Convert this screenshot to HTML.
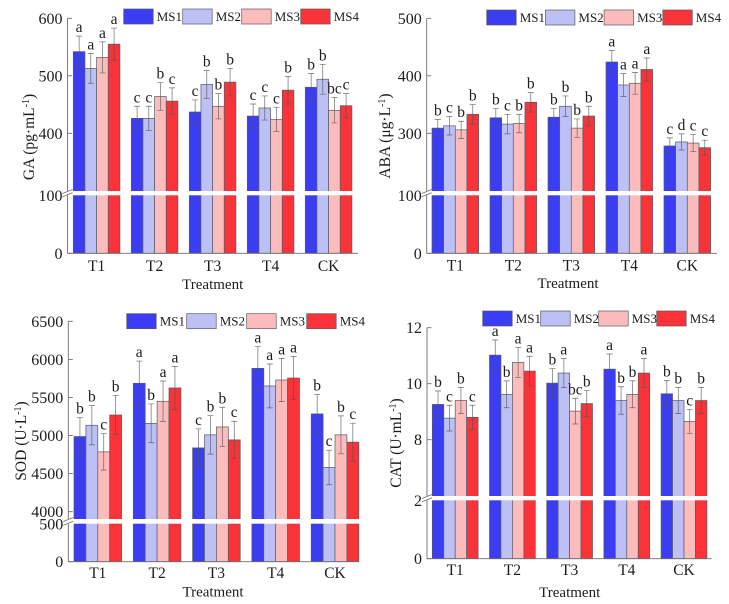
<!DOCTYPE html>
<html lang="en">
<head>
<meta charset="utf-8">
<title>Treatment bar charts</title>
<style>
html,body{margin:0;padding:0;background:#fff;width:729px;height:604px;overflow:hidden}
svg{display:block;filter:blur(0.3px)}
text{font-family:"Liberation Serif",serif;fill:#1c1c1c}
</style>
</head>
<body>
<svg id="figure" width="729" height="604" viewBox="0 0 729 604" xmlns="http://www.w3.org/2000/svg">
<rect width="729" height="604" fill="#fff"/>
<g id="panel-ga"></g>
<g id="panel-aba"></g>
<g id="panel-sod"></g>
<g id="panel-cat"></g>
</svg>
<script>
const categories = ['T1', 'T2', 'T3', 'T4', 'CK'];
const seriesNames = ['MS1', 'MS2', 'MS3', 'MS4'];

const gaValues = [[542,426,437,430,480],[513,426,485,444,494],[532,464,447,424,440],[555,456,489,475,448]];
const gaErrors = [[27,21,21,21,24],[26,21,24,21,26],[27,24,22,21,22],[28,23,24,24,21]];
const gaLetters = [['a','c','c','c','b'],['a','c','b','c','b'],['a','b','b','c','bc'],['a','c','b','b','c']];
const gaLowerTicks = [0, 100];
const gaUpperTicks = [400, 500, 600];

const abaValues = [[309,327,328,424,278],[313,316,347,384,285],[306,317,309,387,283],[333,354,330,411,275]];
const abaErrors = [[15,16,15,20,14],[16,17,18,20,14],[15,16,16,19,15],[17,17,17,20,13]];
const abaLetters = [['b','b','b','a','c'],['c','c','b','a','d'],['b','b','b','a','c'],['b','b','b','a','c']];
const abaLowerTicks = [0, 100];
const abaUpperTicks = [300, 400, 500];

const sodValues = [[4987,5686,4838,5882,5284],[5135,5160,5009,5651,4581],[4786,5450,5113,5729,5009],[5270,5625,4943,5755,4913]];
const sodErrors = [[249,292,249,288,257],[258,255,253,288,227],[240,266,258,284,249],[258,283,245,284,249]];
const sodLetters = [['b','a','c','a','b'],['b','b','b','a','c'],['c','a','b','a','b'],['b','a','c','a','c']];
const sodLowerTicks = [0, 500];
const sodUpperTicks = [4000, 4500, 5000, 5500, 6000, 6500];

const catValues = [[9.26,11.02,10.02,10.52,9.64],[8.77,9.62,10.38,9.40,9.40],[9.40,10.76,9.02,9.62,8.65],[8.80,10.45,9.29,10.38,9.40]];
const catErrors = [[0.48,0.54,0.52,0.54,0.48],[0.46,0.48,0.52,0.49,0.47],[0.47,0.54,0.46,0.48,0.43],[0.43,0.53,0.47,0.52,0.47]];
const catLetters = [['b','a','b','a','b'],['c','b','a','b','b'],['b','a','bc','b','c'],['c','a','b','a','b']];
const catLowerTicks = [0, 2];
const catUpperTicks = [8, 10, 12];

const colors = ['#3a3df2', '#bcc0f4', '#fdbcbc', '#f93338'];
const NS = 'http://www.w3.org/2000/svg';
const AXIS = '#6e6e6e';

function make(tag, parent, attrs, text) {
  const el = document.createElementNS(NS, tag);
  for (const k in attrs) el.setAttribute(k, attrs[k]);
  if (text !== undefined) el.textContent = text;
  parent.appendChild(el);
  return el;
}

function drawPanel(cfg) {
  const g = document.getElementById(cfg.id);

  // piecewise y axis with a break
  function y(v) {
    if (v <= cfg.lowMax) return cfg.y0 + (cfg.lowMaxY - cfg.y0) * v / cfg.lowMax;
    return cfg.yA + (cfg.yB - cfg.yA) * (v - cfg.a) / (cfg.b - cfg.a);
  }
  function x(cat, ser) { return cfg.x0 + cat * cfg.step + ser * cfg.barW; }

  // bars
  cfg.values.forEach(function (vals, s) {
    vals.forEach(function (v, c) {
      const bar = make('rect', g, {x: x(c, s), y: y(v), width: cfg.barW, height: cfg.y0 - y(v), fill: colors[s], stroke: '#5a5a66', 'stroke-width': 0.7});
      
      
    });
  });

  // error bars and significance letters
  cfg.values.forEach(function (vals, s) {
    vals.forEach(function (v, c) {
      const cx = x(c, s) + cfg.barW / 2;
      const top = y(v + cfg.errors[s][c]);
      const bot = y(v - cfg.errors[s][c]);
      const err = make('path', g, {d: 'M' + (cx - 3) + ' ' + top + 'H' + (cx + 3) + 'M' + cx + ' ' + top + 'V' + bot + 'M' + (cx - 3) + ' ' + bot + 'H' + (cx + 3), fill: 'none', stroke: '#555', 'stroke-width': 0.7, 'stroke-opacity': 0.85});
      
      
      const lab = make('text', g, {x: cx, y: top - 4, 'text-anchor': 'middle', 'font-size': 15.5}, cfg.letters[s][c]);
      
      
    });
  });

  // white axis break band
  const band = make('rect', g, {x: cfg.axisX - 1, y: cfg.gapTop, width: cfg.axisEnd - cfg.axisX + 2, height: cfg.gapBottom - cfg.gapTop, fill: '#fff'});
  
  

  // y axis
  const yAxis = make('path', g, {d: 'M' + cfg.axisX + ' ' + cfg.y0 + 'V' + cfg.gapBottom + 'M' + cfg.axisX + ' ' + cfg.gapTop + 'V' + cfg.yTop, fill: 'none', stroke: AXIS, 'stroke-width': 0.9});
  
  

  const slash = make('path', g, {d: 'M' + (cfg.axisX - 5) + ' ' + (cfg.gapTop + 2.5) + 'L' + (cfg.axisX + 5) + ' ' + (cfg.gapTop - 1.5) + 'M' + (cfg.axisX - 5) + ' ' + (cfg.gapBottom + 1.5) + 'L' + (cfg.axisX + 5) + ' ' + (cfg.gapBottom - 2.5), fill: 'none', stroke: AXIS, 'stroke-width': 0.8});
  
  

  // y ticks
  cfg.lowerTicks.concat(cfg.upperTicks).forEach(function (t) {
    const ty = y(t);
    if (t !== cfg.lowMax) {
      const tick = make('line', g, {x1: cfg.axisX, x2: cfg.axisX + 4.5, y1: ty, y2: ty, stroke: AXIS, 'stroke-width': 0.9});
      
      
    }
    const lab = make('text', g, {x: cfg.axisX - 5, y: ty + 5.5, 'text-anchor': 'end', 'font-size': 16}, t);
    
    
  });

  // x axis
  const xAxis = make('line', g, {x1: cfg.axisX, x2: cfg.axisEnd, y1: cfg.y0, y2: cfg.y0, stroke: AXIS, 'stroke-width': 0.9});
  
  

  categories.forEach(function (name, c) {
    const lab = make('text', g, {x: x(c, 2), y: cfg.y0 + cfg.tickDy, 'text-anchor': 'middle', 'font-size': 15.5}, name);
    
    
  });

  const xTitle = make('text', g, {x: cfg.xTitleX, y: cfg.xTitleY, 'text-anchor': 'middle', 'font-size': 15}, 'Treatment');
  
  

  // y title
  const yTitle = make('text', g, {transform: 'translate(' + cfg.yTitleX + ' ' + cfg.yTitleY + ') rotate(-90)', 'text-anchor': 'middle', 'font-size': 15.5});
  
  
  make('tspan', yTitle, {}, cfg.title);
  make('tspan', yTitle, {dy: -5, 'font-size': 10}, '-1');
  make('tspan', yTitle, {dy: 5}, ')');

  // legend
  seriesNames.forEach(function (name, s) {
    const sx = cfg.legX + s * cfg.legStep;
    const sw = make('rect', g, {x: sx, y: cfg.legY, width: 29.5, height: 15, fill: colors[s], stroke: '#5a5a66', 'stroke-width': 0.7});
    
    
    const tx = make('text', g, {x: sx + 33, y: cfg.legY + 12, 'font-size': 13}, name);
    
    
  });
}

drawPanel({id: 'panel-ga', values: gaValues, errors: gaErrors, letters: gaLetters, lowerTicks: gaLowerTicks, upperTicks: gaUpperTicks,
  title: 'GA (pg·mL', axisX: 67.5, axisEnd: 358, yTop: 18.3, y0: 253.3, lowMax: 100, lowMaxY: 195.5, a: 400, b: 600, yA: 133.3, yB: 18.3,
  gapTop: 191, gapBottom: 195.3, x0: 73.3, step: 58, barW: 11.65, tickDy: 17.5, xTitleX: 212.7, xTitleY: 289, yTitleX: 34, yTitleY: 137, legX: 123.7, legY: 9, legStep: 59});

drawPanel({id: 'panel-aba', values: abaValues, errors: abaErrors, letters: abaLetters, lowerTicks: abaLowerTicks, upperTicks: abaUpperTicks,
  title: 'ABA (μg·L', axisX: 426.7, axisEnd: 717, yTop: 18.3, y0: 253.3, lowMax: 100, lowMaxY: 195.5, a: 300, b: 500, yA: 133.3, yB: 18.3,
  gapTop: 191, gapBottom: 195.3, x0: 432, step: 58, barW: 11.65, tickDy: 17, xTitleX: 568, xTitleY: 288, yTitleX: 390, yTitleY: 136, legX: 486.7, legY: 10, legStep: 58.7});

drawPanel({id: 'panel-sod', values: sodValues, errors: sodErrors, letters: sodLetters, lowerTicks: sodLowerTicks, upperTicks: sodUpperTicks,
  title: 'SOD (U·L', axisX: 68.3, axisEnd: 359, yTop: 321.3, y0: 561.7, lowMax: 500, lowMaxY: 524, a: 4000, b: 6500, yA: 511.7, yB: 321.3,
  gapTop: 519, gapBottom: 523.7, x0: 74, step: 59.3, barW: 11.9, tickDy: 16.5, xTitleX: 213, xTitleY: 596.7, yTitleX: 26, yTitleY: 441, legX: 126.7, legY: 313.7, legStep: 60});

drawPanel({id: 'panel-cat', values: catValues, errors: catErrors, letters: catLetters, lowerTicks: catLowerTicks, upperTicks: catUpperTicks,
  title: 'CAT (U·mL', axisX: 427, axisEnd: 711.7, yTop: 327.7, y0: 558.7, lowMax: 2, lowMaxY: 500.3, a: 8, b: 12, yA: 439.7, yB: 327.7,
  gapTop: 496, gapBottom: 500.3, x0: 432.3, step: 57.2, barW: 11.45, tickDy: 16.5, xTitleX: 569.7, xTitleY: 597, yTitleX: 401, yTitleY: 443, legX: 482.7, legY: 311, legStep: 58});
</script>
</body>
</html>
